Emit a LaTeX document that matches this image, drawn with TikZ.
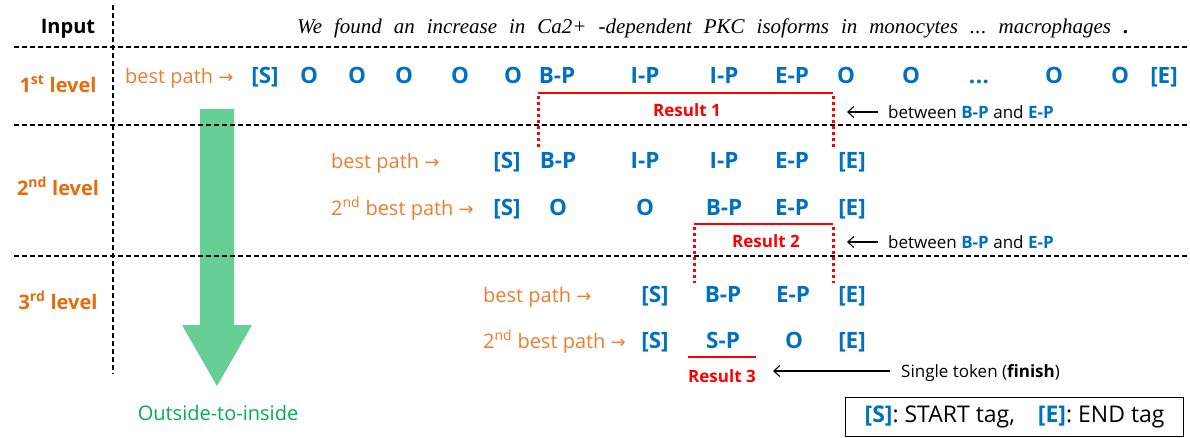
\documentclass[tikz,border=0pt]{standalone}
\usepackage{fontspec}
\setmainfont{Open Sans}
\newfontfamily\serifit{Liberation Serif}
\newfontfamily\dejavu{DejaVu Sans}
\usetikzlibrary{arrows.meta}
\definecolor{tokblue}{HTML}{0070C0}
\definecolor{orng}{HTML}{ED7D31}
\definecolor{lvorng}{HTML}{E46C0A}
\definecolor{resred}{HTML}{FF0000}
\definecolor{arrgreen}{HTML}{66CF95}
\definecolor{txtgreen}{HTML}{00B050}
\newcommand{\ra}{{\dejavu\fontsize{18}{20}\selectfont →}}
\newcommand{\tg}[1]{\textbf{\textcolor{tokblue}{#1}}}
\newcommand{\tokdots}{.\kern0.5pt.\kern0.5pt.}
\begin{document}
\begin{tikzpicture}[x=1pt,y=-1pt,
  tok/.style={anchor=base,inner sep=0,font=\fontsize{22.5}{26}\selectfont\bfseries,text=tokblue},
  pathlbl/.style={anchor=base west,inner sep=0,font=\fontsize{20}{24}\selectfont,text=orng},
  lvl/.style={anchor=base,inner sep=0,font=\fontsize{20}{24}\selectfont\bfseries,text=lvorng},
  gridline/.style={dash pattern=on 5pt off 3pt,line width=1.1pt},
  redline/.style={resred,line width=1.3pt},
  reddot/.style={resred,line width=3pt,dash pattern=on 3pt off 3pt},
  reslbl/.style={anchor=base,inner sep=0,font=\fontsize{17}{20}\selectfont\bfseries,text=resred},
  note/.style={anchor=base west,inner sep=0,font=\fontsize{17}{20}\selectfont},
  arr/.style={line width=1.1pt,-{Straight Barb[length=6pt,width=11pt]}}
]
\useasboundingbox (0,0) rectangle (1190,437);

% green arrow
\fill[arrgreen] (200,109) -- (234,109) -- (234,325) -- (252,325) -- (217,386) -- (182,325) -- (200,325) -- cycle;
\node[text=txtgreen,font=\fontsize{20}{24}\selectfont,inner sep=0] (oti) at (218,413) {Outside-to-inside};

% grid
\draw[gridline] (113,5) -- (113,374);
\draw[gridline] (14,47) -- (1190,47);
\draw[gridline] (14,125) -- (1190,125);
\draw[gridline] (14,256) -- (1190,256);

% header
\node[anchor=base,inner sep=0,font=\fontsize{20}{24}\selectfont\bfseries] (inp) at (68,33) {Input};
\node[anchor=base west,inner sep=0,font=\serifit\itshape\fontsize{21}{25}\selectfont] (sent) at (297,33)
 {\hbox to 831pt{We\hfill found\hfill an\hfill increase\hfill in\hfill Ca2+\hfill -dependent\hfill PKC\hfill isoforms\hfill in\hfill monocytes\hfill \tokdots\hfill macrophages\hfill\upshape\bfseries .}};

% level labels
\node[lvl] (lv1) at (58,92) {1\textsuperscript{st} level};
\node[lvl] (lv2) at (58,195) {2\textsuperscript{nd} level};
\node[lvl] (lv3) at (58,309) {3\textsuperscript{rd} level};

% row 1
\node[pathlbl] (p1) at (125,83) {best path \ra};
\foreach \x/\t [count=\i] in {265/{[S]},309/O,357/O,404/O,460/O,513/O,557/B-P,645/I-P,724/I-P,792/E-P,846/O,911/O,979/\tokdots,1054/O,1120/O,1164/{[E]}}
  \node[tok] (r1t\i) at (\x,83) {\t};

% row 2
\node[pathlbl] (p2) at (331,168) {best path \ra};
\foreach \x/\t [count=\i] in {507/{[S]},558/B-P,645/I-P,724/I-P,792/E-P,852/{[E]}}
  \node[tok] (r2t\i) at (\x,168) {\t};
\node[pathlbl] (p2b) at (331,215) {2\textsuperscript{nd} best path \ra};
\foreach \x/\t [count=\i] in {507/{[S]},558/O,645/O,724/B-P,792/E-P,852/{[E]}}
  \node[tok] (r2b\i) at (\x,215) {\t};

% row 3
\node[pathlbl] (p3) at (483,302) {best path \ra};
\foreach \x/\t [count=\i] in {655/{[S]},723/B-P,793/E-P,852/{[E]}}
  \node[tok] (r3t\i) at (\x,302) {\t};
\node[pathlbl] (p3b) at (483,348) {2\textsuperscript{nd} best path \ra};
\foreach \x/\t [count=\i] in {655/{[S]},723/S-P,794/O,852/{[E]}}
  \node[tok] (r3b\i) at (\x,348) {\t};

% result 1
\draw[redline] (538,93) -- (833,93);
\draw[reddot] (538,96) -- (538,148);
\draw[reddot] (833,96) -- (833,148);
\node[reslbl] (res1) at (687,116) {Result 1};
\node[note] (bt1) at (888,118) {between \tg{B-P} and \tg{E-P}};
\coordinate (a1s) at (878,112);
\coordinate (a1e) at (847,112);
\draw[arr] (a1s) -- (a1e);

% result 2
\draw[redline] (694,224) -- (833,224);
\draw[reddot] (694,227) -- (694,283);
\draw[reddot] (833,227) -- (833,283);
\node[reslbl] (res2) at (766,247) {Result 2};
\node[note] (bt2) at (888,248) {between \tg{B-P} and \tg{E-P}};
\coordinate (a2s) at (878,242);
\coordinate (a2e) at (847,242);
\draw[arr] (a2s) -- (a2e);

% result 3
\draw[redline] (688,357) -- (756,357);
\node[reslbl] (res3) at (722,382) {Result 3};
\node[note] (st) at (901,377) {Single token (\textbf{finish})};
\coordinate (a3s) at (890,371);
\coordinate (a3e) at (773,371);
\draw[arr] (a3s) -- (a3e);

% legend
\node[draw,line width=1.2pt,anchor=north west,minimum width=338pt,minimum height=39pt,inner sep=0,font=\fontsize{23}{27}\selectfont] (leg) at (845,397)
 {\tg{[S]}: START tag,\quad \tg{[E]}: END tag};
\end{tikzpicture}
\end{document}
